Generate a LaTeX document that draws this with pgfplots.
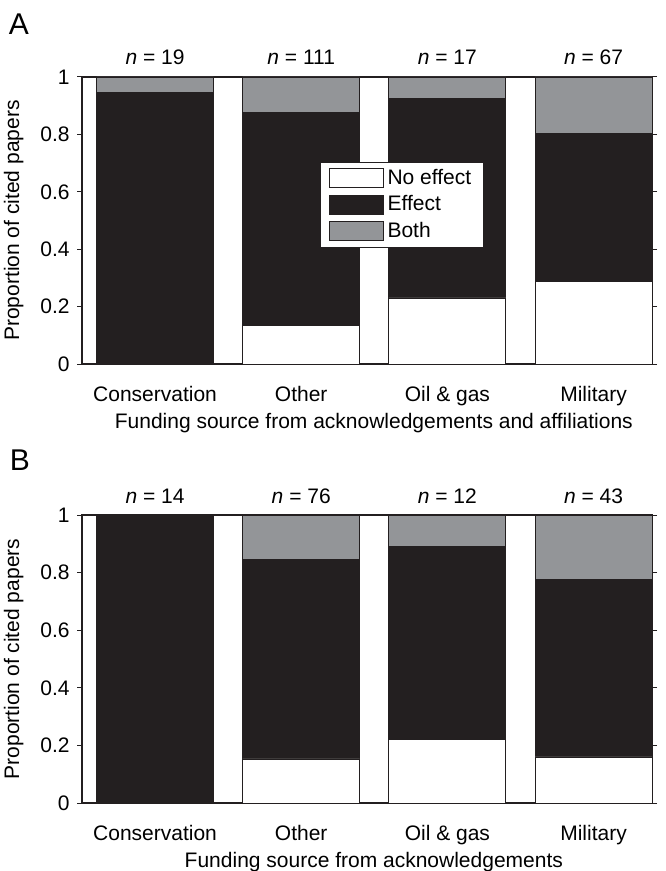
\documentclass[border=0pt]{standalone}
\usepackage{fontspec}
\setmainfont{Liberation Sans}
\usepackage{pgfplots}
\pgfplotsset{compat=1.18}
\definecolor{blk}{HTML}{231F20}
\definecolor{gry}{HTML}{939598}
\pgfplotsset{
 myaxis/.style={
  width=285pt, height=143.5pt, scale only axis,
  ybar stacked, bar width=58.5pt,
  xmin=-0.5, xmax=3.4, ymin=0, ymax=1,
  xtick={0,1,2,3}, xticklabels={Conservation,Other,Oil \& gas,Military},
  x tick style={draw=none},
  ytick={0,0.2,0.4,0.6,0.8,1},
  yticklabels={0,0.2,0.4,0.6,0.8,1},
  ytick pos=both, tick align=outside,
  major tick length=2.5pt,
  y tick style={blk, line width=0.5pt},
  axis line style={line width=0.8pt, blk},
  clip=false,
  tick label style={font=\fontsize{10.5}{12}\selectfont},
  label style={font=\fontsize{10.5}{12}\selectfont},
  ylabel={Proportion of cited papers},
  ylabel style={at={(axis description cs:-0.12,0.5)}, anchor=center},
  xlabel style={at={(axis description cs:0.512,0)}, anchor=north, yshift=-21pt},
  xticklabel style={yshift=-5pt},
  every axis plot/.append style={draw=blk, line width=0.4pt},
  legend image code/.code={\draw[#1] (0pt,-4.75pt) rectangle (27pt,4.75pt);},
  legend style={font=\fontsize{10.5}{12}\selectfont, draw=blk, line width=0.5pt,
    cells={anchor=west}, row sep=0pt, inner xsep=4pt, inner ysep=1.5pt},
 }
}
\begin{document}
\fontsize{10.5}{12}\selectfont
\begin{tikzpicture}
\useasboundingbox (0pt,0pt) rectangle (332.5pt,-435.5pt);
\node[font=\fontsize{15}{17}\selectfont] at (9.5pt,-12pt) {A};
\node[font=\fontsize{15}{17}\selectfont] at (10pt,-230pt) {B};
\begin{axis}[myaxis, at={(41pt,-182pt)}, anchor=south west,
  xlabel={Funding source from acknowledgements and affiliations},
  legend style={at={(0.418,0.705)}, anchor=north west}]
\addplot[fill=white] coordinates {(0,0) (1,0.135) (2,0.23) (3,0.288)};
\addplot[fill=blk] coordinates {(0,0.947) (1,0.74) (2,0.695) (3,0.514)};
\addplot[fill=gry] coordinates {(0,0.053) (1,0.125) (2,0.075) (3,0.198)};
\legend{No effect, Effect, Both}
\node[anchor=base, yshift=6pt] at (axis cs:0,1) {\textit{n} = 19};
\node[anchor=base, yshift=6pt] at (axis cs:1,1) {\textit{n} = 111};
\node[anchor=base, yshift=6pt] at (axis cs:2,1) {\textit{n} = 17};
\node[anchor=base, yshift=6pt] at (axis cs:3,1) {\textit{n} = 67};
\end{axis}
\begin{axis}[myaxis, at={(41pt,-401.5pt)}, anchor=south west, height=144pt,
  xlabel={Funding source from acknowledgements}]
\addplot[fill=white] coordinates {(0,0) (1,0.153) (2,0.22) (3,0.16)};
\addplot[fill=blk] coordinates {(0,1.0) (1,0.694) (2,0.67) (3,0.615)};
\addplot[fill=gry] coordinates {(0,0) (1,0.153) (2,0.11) (3,0.225)};
\node[anchor=base, yshift=6pt] at (axis cs:0,1) {\textit{n} = 14};
\node[anchor=base, yshift=6pt] at (axis cs:1,1) {\textit{n} = 76};
\node[anchor=base, yshift=6pt] at (axis cs:2,1) {\textit{n} = 12};
\node[anchor=base, yshift=6pt] at (axis cs:3,1) {\textit{n} = 43};
\end{axis}
\end{tikzpicture}
\end{document}
